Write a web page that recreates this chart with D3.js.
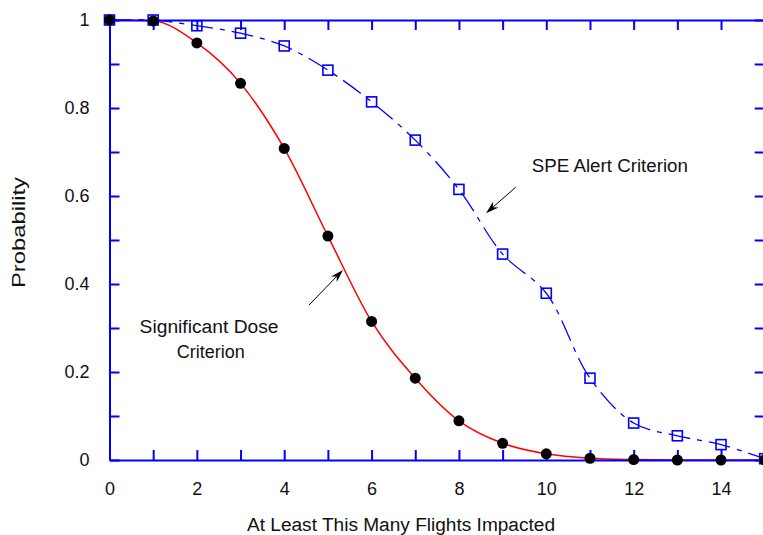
<!DOCTYPE html>
<html>
<head>
<meta charset="utf-8">
<script src="https://cdn.jsdelivr.net/npm/d3@7"></script>
<style>
  body { margin: 0; background: #fff; }
  text { font-family: "Liberation Sans", Arial, sans-serif; fill: #111; }
</style>
</head>
<body>
<svg id="chart" width="763" height="535"></svg>
<script>
// values
const flights = [0, 1, 2, 3, 4, 5, 6, 7, 8, 9, 10, 11, 12, 13, 14, 15];
const doseProb = [1, 0.998, 0.948, 0.856, 0.708, 0.509, 0.315, 0.186, 0.089, 0.038, 0.014, 0.004, 0.001, 0, 0, 0];
const speProb = [1, 1, 0.987, 0.97, 0.941, 0.886, 0.814, 0.727, 0.615, 0.468, 0.379, 0.186, 0.084, 0.055, 0.035, 0.003];
const xLabels = [0, 2, 4, 6, 8, 10, 12, 14];
const yLabels = [0, 0.2, 0.4, 0.6, 0.8, 1];

// annotation text / arrows, in data units
const notes = [
  { text: "SPE Alert Criterion", x: 9.67, y: 0.655, anchor: "start", len: 156 },
  { text: "Significant Dose", x: 2.28, y: 0.289, anchor: "middle", len: 139 },
  { text: "Criterion", x: 2.32, y: 0.231, anchor: "middle", len: 68 }
];
const arrows = [
  { x1: 9.30, y1: 0.62, x2: 8.62, y2: 0.561 },
  { x1: 4.567, y1: 0.352, x2: 5.345, y2: 0.432 }
];

const BLUE = '#0000ff';
const RED = '#ff0000';

const svg = d3.select('#chart');
const x = d3.scaleLinear().domain([0, 15]).range([109.5, 764.7]);
const y = d3.scaleLinear().domain([0, 1]).range([460, 20]);

const dose = flights.map((f, i) => ({ f: f, p: doseProb[i] }));
const spe = flights.map((f, i) => ({ f: f, p: speProb[i] }));

const doseLine = d3.line()
    .x(d => x(d.f))
    .y(d => y(d.p))
    .curve(d3.curveMonotoneX);
const speLine = d3.line()
    .x(d => x(d.f))
    .y(d => y(d.p))
    .curve(d3.curveCatmullRom.alpha(0.5));

// curves
svg.append('path')
    .datum(spe)
    .attr('d', speLine)
    .attr('fill', 'none')
    .attr('stroke', BLUE)
    .attr('stroke-width', 1.3)
    .attr('stroke-dasharray', '22,7,5,7');

svg.append('path')
    .datum(dose)
    .attr('d', doseLine)
    .attr('fill', 'none')
    .attr('stroke', RED)
    .attr('stroke-width', 1.5);

// axes
function styleAxis(g) {
    g.selectAll('path.domain').attr('stroke', BLUE).attr('stroke-width', 2);
    g.selectAll('.tick line').attr('stroke', BLUE).attr('stroke-width', 2);
    g.selectAll('.tick text')
        .attr('font-size', 18)
        .attr('font-family', '"Liberation Sans", Arial, sans-serif')
        .attr('fill', '#111');
}

svg.append('g')
    .attr('transform', `translate(0,${y(0)})`)
    .call(d3.axisBottom(x).ticks(15).tickSizeInner(-10).tickSizeOuter(0).tickPadding(22)
        .tickFormat(d => xLabels.includes(d) ? d : ''))
    .call(styleAxis);

svg.append('g')
    .attr('transform', `translate(0,${y(1)})`)
    .call(d3.axisTop(x).ticks(15).tickSizeInner(-10).tickSizeOuter(0).tickFormat(''))
    .call(styleAxis);

svg.append('g')
    .attr('transform', `translate(${x(0)},0)`)
    .call(d3.axisLeft(y).ticks(10).tickSizeInner(-10).tickSizeOuter(0).tickPadding(20)
        .tickFormat(d => yLabels.some(v => Math.abs(v - d) < 1e-9) ? d3.format('~g')(d) : ''))
    .call(styleAxis);

svg.append('g')
    .attr('transform', `translate(${x(15)},0)`)
    .call(d3.axisRight(y).ticks(10).tickSizeInner(-10).tickSizeOuter(0).tickFormat(''))
    .call(styleAxis);

// markers
svg.selectAll('rect.spe')
    .data(spe)
    .join('rect')
    .attr('class', 'spe')
    .attr('x', d => x(d.f) - 5)
    .attr('y', d => y(d.p) - 5)
    .attr('width', 10)
    .attr('height', 10)
    .attr('fill', 'none')
    .attr('stroke', BLUE)
    .attr('stroke-width', 1.6);

svg.selectAll('circle.dose')
    .data(dose)
    .join('circle')
    .attr('class', 'dose')
    .attr('cx', d => x(d.f))
    .attr('cy', d => y(d.p))
    .attr('r', 5.5)
    .attr('fill', '#000');

// annotations
svg.selectAll('text.note')
    .data(notes)
    .join('text')
    .attr('class', 'note')
    .attr('x', d => x(d.x))
    .attr('y', d => y(d.y))
    .attr('text-anchor', d => d.anchor)
    .attr('font-size', 18)
    .attr('textLength', d => d.len)
    .attr('lengthAdjust', 'spacingAndGlyphs')
    .text(d => d.text);

arrows.forEach(a => {
    const x1 = x(a.x1), y1 = y(a.y1), x2 = x(a.x2), y2 = y(a.y2);
    const ang = Math.atan2(y2 - y1, x2 - x1);
    const L = 13, W = 4;
    const bx = x2 - L * Math.cos(ang), by = y2 - L * Math.sin(ang);
    const nx = x2 - (L - 4) * Math.cos(ang), ny = y2 - (L - 4) * Math.sin(ang);
    const px = -Math.sin(ang) * W, py = Math.cos(ang) * W;
    svg.append('line')
        .attr('x1', x1).attr('y1', y1).attr('x2', nx).attr('y2', ny)
        .attr('stroke', '#000').attr('stroke-width', 1);
    svg.append('path')
        .attr('d', `M${x2},${y2}L${bx + px},${by + py}L${nx},${ny}L${bx - px},${by - py}Z`)
        .attr('fill', '#000');
});

// axis titles
svg.append('text')
    .attr('x', 401)
    .attr('y', 530.5)
    .attr('text-anchor', 'middle')
    .attr('font-size', 18)
    .attr('textLength', 308)
    .attr('lengthAdjust', 'spacingAndGlyphs')
    .text('At Least This Many Flights Impacted');

svg.append('text')
    .attr('transform', 'translate(25,232.5) rotate(-90)')
    .attr('text-anchor', 'middle')
    .attr('font-size', 18)
    .attr('textLength', 111)
    .attr('lengthAdjust', 'spacingAndGlyphs')
    .text('Probability');
</script>
</body>
</html>
